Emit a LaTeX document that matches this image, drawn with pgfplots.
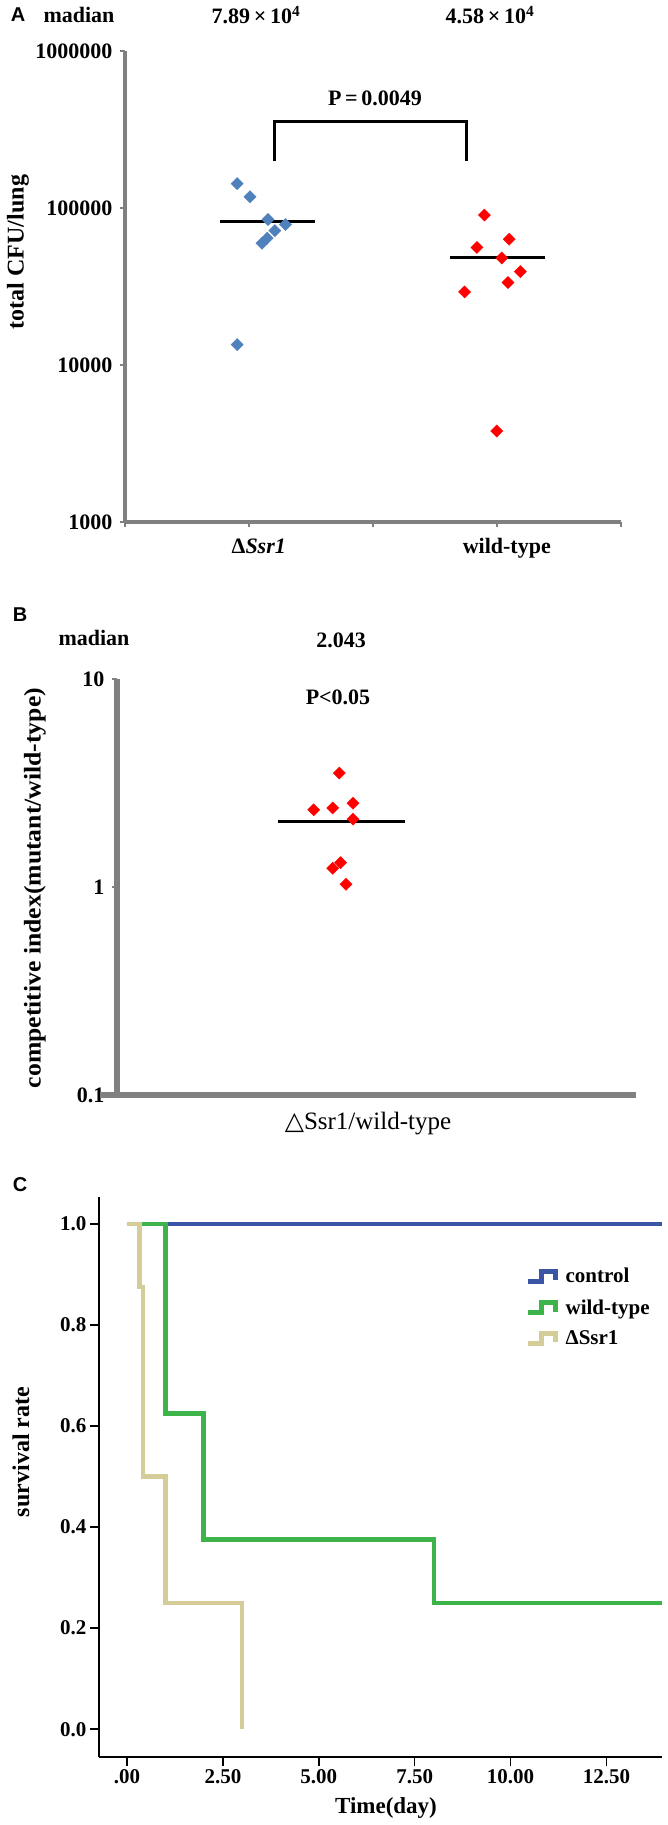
\documentclass[border=0pt]{standalone}
\usepackage{fontspec}
\setmainfont{Liberation Serif}
\newfontfamily\sansf{Liberation Sans}
\newfontfamily\dejavu{DejaVu Sans}
\usepackage{graphicx}
\usepackage{pgfplots}
\pgfplotsset{compat=1.18}
\newcommand{\fs}[1]{\fontsize{#1}{#1}\selectfont}
\definecolor{ablue}{RGB}{79,129,189}
\definecolor{ared}{RGB}{255,0,0}
\definecolor{axgray}{RGB}{128,128,128}
\definecolor{cblue}{RGB}{58,84,166}
\definecolor{cgreen}{RGB}{60,180,74}
\definecolor{ctan}{RGB}{212,205,152}

\begin{document}
\begin{tikzpicture}
\useasboundingbox (0,0) rectangle (668pt,-1825pt);
\fill[white] (0,0) rectangle (668pt,-1825pt);

% ---------- A: total CFU per lung ----------
\begin{axis}[
    at={(124.8pt,-522pt)}, anchor=south west,
    scale only axis, width=496pt, height=471pt,
    xmin=0, xmax=4, ymode=log, ymin=1000, ymax=1000000,
    enlargelimits=false, clip=false,
    axis x line=bottom, axis y line=left,
    axis line style={-, axgray, line width=4.5pt},
    xtick={0,1,2,3,4}, xticklabels={,{Δ\textit{Ssr1}},,wild-type,},
    ytick={1000,10000,100000,1000000},
    yticklabels={1000,10000,100000,1000000},
    yminorticks=false, tick align=outside, major tick length=5pt,
    tick style={axgray, line width=2pt},
    ticklabel style={font=\bfseries\fs{22}, text=black},
    xticklabel style={yshift=-8pt, xshift=10pt},
    yticklabel style={xshift=-4pt},
]
\addplot[only marks, mark=square*, mark size=4.3pt, color=ablue,
    mark options={rotate=45, fill=ablue, draw=ablue}] coordinates {
    (0.906,143000) (1.01,118000) (1.155,84500) (1.296,78400)
    (1.21,71700) (1.148,64200) (1.106,59600) (0.906,13500)
};
\addplot[only marks, mark=square*, mark size=4.3pt, color=ared,
    mark options={rotate=45, fill=ared, draw=ared}] coordinates {
    (2.90,90200) (3.10,63300) (2.84,56100) (3.04,48100)
    (3.19,39300) (3.09,33500) (2.74,29200) (3.00,3800)
};
\addplot[black, line width=2.5pt] coordinates {(0.768,82000) (1.534,82000)};
\addplot[black, line width=2.5pt] coordinates {(2.62,48500) (3.39,48500)};
% significance bracket
\addplot[black, line width=3pt] coordinates {
    (1.21,198000) (1.21,357000) (2.755,357000) (2.755,198000)};
\end{axis}

\node[font=\sansf\bfseries\fs{20}] at (18pt,-15pt) {A};
\node[font=\bfseries\fs{22}] at (79pt,-15pt) {madian};
\node[font=\bfseries\fs{22}] at (256pt,-15pt) {7.89\,×\,10\textsuperscript{4}};
\node[font=\bfseries\fs{22}] at (490pt,-15pt) {4.58\,×\,10\textsuperscript{4}};
\node[font=\bfseries\fs{22}] at (375pt,-98pt) {P\,=\,0.0049};
\node[font=\bfseries\fs{24}, rotate=90] at (18pt,-252pt) {total CFU/lung};

% ---------- B: competitive index ----------
\begin{axis}[
    at={(117pt,-1095pt)}, anchor=south west,
    scale only axis, width=519pt, height=416pt,
    xmin=117, xmax=636, ymode=log, ymin=0.1, ymax=10,
    enlargelimits=false, clip=false,
    axis x line=bottom, axis y line=left,
    axis line style={-, axgray, line width=5.5pt},
    xtick=\empty,
    ytick={0.1,1,10}, yticklabels={0.1,1,10},
    yminorticks=false, tick align=outside, major tick length=5pt,
    tick style={axgray, line width=2pt},
    ticklabel style={font=\bfseries\fs{22}, text=black},
    yticklabel style={xshift=-4pt},
]
\addplot[black, line width=2.5pt] coordinates {(277.8,2.07) (404.7,2.07)};
\addplot[only marks, mark=square*, mark size=4.3pt, color=ared,
    mark options={rotate=45, fill=ared, draw=ared}] coordinates {
    (339.3,3.53) (313.7,2.35) (332.7,2.40) (353,2.53)
    (353,2.12) (340.7,1.31) (332.7,1.23) (346,1.03)
};
\end{axis}
\draw[axgray, line width=5.5pt] (100pt,-1095pt) -- (117pt,-1095pt);

\node[font=\sansf\bfseries\fs{20}] at (20pt,-615pt) {B};
\node[font=\bfseries\fs{22}] at (94pt,-638pt) {madian};
\node[font=\bfseries\fs{22}] at (341pt,-640pt) {2.043};
\node[font=\bfseries\fs{22}] at (338pt,-697pt) {P<0.05};
\node[font=\bfseries\fs{24}, rotate=90] at (35pt,-888pt)
    {\scalebox{1.07}[1]{competitive index(mutant/wild-type)}};
\node[font=\fs{25}] at (368pt,-1124pt) {{\dejavu △}Ssr1/wild-type};

% ---------- C: survival ----------
\begin{axis}[
    at={(99pt,-1757pt)}, anchor=south west,
    scale only axis, width=563pt, height=560pt,
    xmin=-0.73, xmax=13.95, ymin=-0.055, ymax=1.053,
    enlargelimits=false, clip=false,
    axis x line=bottom, axis y line=left,
    axis line style={-, black, line width=1.8pt},
    xtick={0,2.5,5,7.5,10,12.5},
    xticklabels={.00,2.50,5.00,7.50,10.00,12.50},
    ytick={0,0.2,0.4,0.6,0.8,1},
    yticklabels={0.0,0.2,0.4,0.6,0.8,1.0},
    tick align=outside, major tick length=9pt,
    tick style={black, line width=1.5pt},
    ticklabel style={font=\bfseries\fs{21}, text=black},
    legend style={at={(axis description cs:0.753,0.88)}, anchor=north west,
        draw=none, fill=none, font=\bfseries\fs{21}, row sep=11pt},
    legend cell align=left,
    legend image code/.code={
        \draw[#1] (0pt,-5pt) -- (13pt,-5pt) -- (13pt,5pt) -- (27pt,5pt) -- (27pt,-4pt);
        \path (33pt,0pt);},
]
\addplot[cblue, line width=4.5pt] coordinates {(0,1) (13.95,1)};
\addlegendentry{control}
\addplot[cgreen, line width=4.5pt] coordinates {
    (0,1) (1,1) (1,0.625) (2,0.625) (2,0.375) (8,0.375) (8,0.25) (13.95,0.25)};
\addlegendentry{wild-type}
\addplot[ctan, line width=4.5pt] coordinates {
    (0,1) (0.33,1) (0.33,0.875) (0.42,0.875) (0.42,0.5) (1,0.5) (1,0.25) (3,0.25) (3,0)};
\addlegendentry{ΔSsr1}
\end{axis}

\node[font=\sansf\bfseries\fs{20}] at (20pt,-1185pt) {C};
\node[font=\bfseries\fs{24}, rotate=90] at (21pt,-1452pt) {survival rate};
\node[font=\bfseries\fs{23}] at (386pt,-1808pt) {Time(day)};
\end{tikzpicture}
\end{document}
